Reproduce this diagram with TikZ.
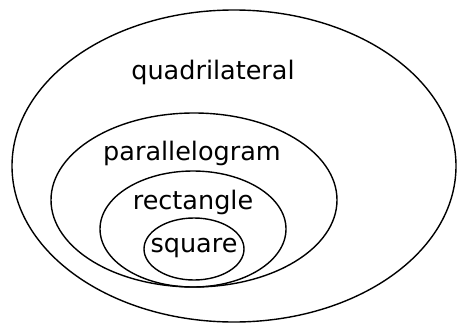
\documentclass[tikz,border=0pt]{standalone}
\usepackage{fontspec}
\setmainfont{DejaVu Sans}
\tikzset{
    nhan/.style={font=\fontsize{25.5}{30}\selectfont, inner sep=0pt},
    vien/.style={line width=1.4pt}
}
\begin{document}
\begin{tikzpicture}[x=1pt, y=-1pt]
    \useasboundingbox (0,0) rectangle (457,324);

    % Ellipse ngoai cung
    \draw[vien] (234,166) ellipse (222 and 156);
    \node[nhan] (tugiac) at (213,72) {quadrilateral};

    % Hinh binh hanh
    \draw[vien] (194,200) ellipse (143 and 87);
    \node[nhan] (hbh) at (192,153) {parallelogram};

    % Hinh chu nhat
    \draw[vien] (193,229) ellipse (93 and 58);
    \node[nhan] (hcn) at (193,202) {rectangle};

    % Hinh vuong
    \draw[vien] (194,249) ellipse (50 and 31);
    \node[nhan] (hv) at (194,248) {square};
\end{tikzpicture}
\end{document}
